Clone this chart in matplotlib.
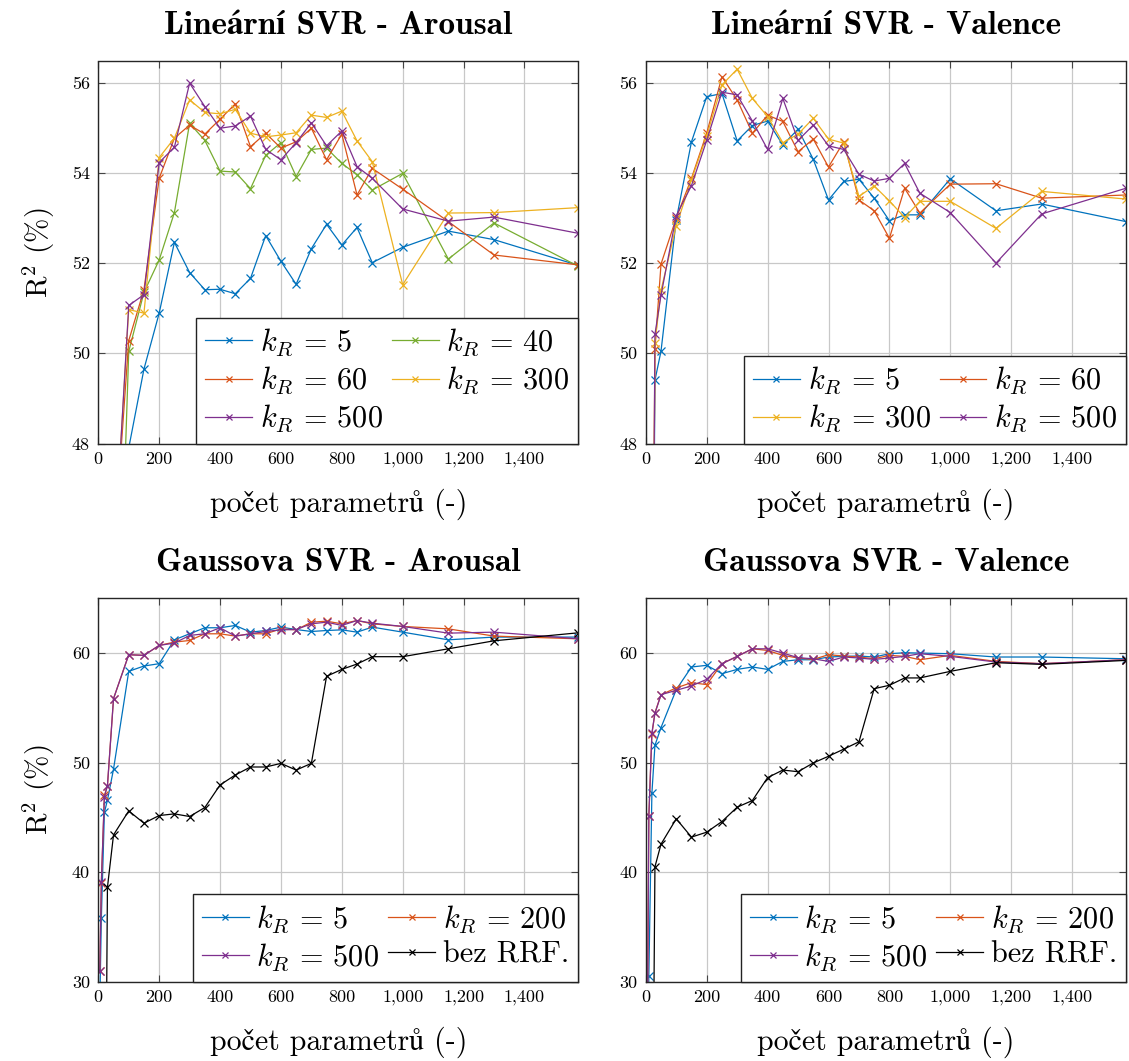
import matplotlib
matplotlib.use("Agg")
import matplotlib.pyplot as plt
from matplotlib.ticker import FuncFormatter, FixedLocator

plt.rcParams['mathtext.fontset'] = 'cm'
plt.rcParams['font.family'] = ['cmr10', 'STIXGeneral']
plt.rcParams['axes.unicode_minus'] = False

C_BLUE = '#0072BD'
C_ORANGE = '#D95319'
C_YELLOW = '#EDB120'
C_PURPLE = '#7E2F8E'
C_GREEN = '#77AC30'
C_BLACK = '#000000'

# ---------------- data ----------------
x_lin_a = [50, 100, 150, 200, 250, 300, 350, 400, 450, 500, 550, 600, 650, 700,
           750, 800, 850, 900, 1000, 1150, 1300, 1577]
lin_a_k5 = [44.0, 47.9, 49.65, 50.89, 52.46, 51.79, 51.41, 51.42, 51.32, 51.66, 52.61,
            52.04, 51.53, 52.32, 52.86, 52.40, 52.79, 52.01, 52.35, 52.71, 52.52, 51.95]
lin_a_k40 = [39.8, 50.04, 51.35, 52.07, 53.12, 55.10, 54.72, 54.04, 54.02, 53.65, 54.39,
             54.67, 53.92, 54.52, 54.55, 54.21, 53.96, 53.62, 53.99, 52.09, 52.89, 51.93]
lin_a_k60 = [45.5, 50.28, 51.41, 53.88, 54.77, 55.06, 54.86, 55.19, 55.53, 54.58, 54.88,
             54.55, 54.69, 54.99, 54.29, 54.86, 53.51, 54.10, 53.64, 52.92, 52.18, 51.96]
lin_a_k300 = [45.3, 50.97, 50.89, 54.34, 54.77, 55.62, 55.34, 55.31, 55.41, 54.88, 54.80,
              54.84, 54.89, 55.28, 55.23, 55.37, 54.71, 54.25, 51.52, 53.11, 53.12, 53.23]
lin_a_k500 = [45.2, 51.06, 51.30, 54.23, 54.57, 55.99, 55.47, 54.99, 55.04, 55.26, 54.52,
              54.29, 54.67, 55.11, 54.60, 54.93, 54.14, 53.88, 53.20, 52.93, 53.02, 52.66]

x_lin_v = [20, 30, 50, 100, 150, 200, 250, 300, 350, 400, 450, 500, 550, 600, 650, 700,
           750, 800, 850, 900, 1000, 1150, 1300, 1577]
lin_v_k5 = [40.0, 49.40, 50.05, 52.96, 54.69, 55.69, 55.76, 54.71, 55.05, 55.15, 54.62, 54.97,
            54.30, 53.40, 53.81, 53.86, 53.44, 52.94, 53.07, 53.07, 53.87, 53.16, 53.31, 52.92]
lin_v_k60 = [40.0, 50.09, 51.98, 53.00, 53.88, 54.88, 56.13, 55.62, 54.88, 55.28, 55.14, 54.47,
             54.75, 54.13, 54.69, 53.40, 53.16, 52.55, 53.66, 53.11, 53.75, 53.76, 53.44, 53.51]
lin_v_k300 = [40.0, 50.22, 51.40, 52.83, 53.85, 54.82, 55.95, 56.30, 55.65, 55.25, 54.67, 54.86,
              55.21, 54.75, 54.66, 53.48, 53.71, 53.38, 53.01, 53.37, 53.37, 52.77, 53.59, 53.42]
lin_v_k500 = [40.0, 50.42, 51.29, 53.05, 53.72, 54.72, 55.79, 55.73, 55.15, 54.52, 55.65, 54.72,
              55.06, 54.60, 54.52, 53.97, 53.82, 53.88, 54.21, 53.55, 53.12, 52.00, 53.09, 53.66]

x_gauss = [5, 10, 20, 30, 50, 100, 150, 200, 250, 300, 350, 400, 450, 500, 550, 600, 650, 700,
           750, 800, 850, 900, 1000, 1150, 1300, 1577]
x_norrf = [20, 30, 50, 100, 150, 200, 250, 300, 350, 400, 450, 500, 550, 600, 650, 700,
           750, 800, 850, 900, 1000, 1150, 1300, 1577]

gau_a_k5 = [28.0, 35.8, 45.45, 46.57, 49.4, 58.33, 58.82, 59.03, 61.21, 61.76, 62.31, 62.31, 62.52,
            61.91, 62.06, 62.37, 62.15, 61.97, 62.06, 62.12, 61.91, 62.37, 61.91, 61.21, 61.46, 61.46]
gau_a_k200 = [31.0, 39.0, 47.0, 47.87, 55.84, 59.85, 59.79, 60.70, 61.00, 61.15, 61.76, 61.76, 61.55,
              61.76, 61.76, 62.21, 62.12, 62.82, 62.91, 62.67, 62.97, 62.67, 62.43, 62.21, 61.55, 61.30]
gau_a_k500 = [31.0, 39.1, 46.9, 47.87, 55.84, 59.85, 59.79, 60.70, 60.91, 61.61, 61.76, 62.31, 61.55,
              61.76, 61.97, 62.12, 62.15, 62.67, 62.82, 62.52, 62.97, 62.73, 62.43, 61.82, 61.91, 61.30]
gau_a_norrf = [0.0, 38.6, 43.4, 45.59, 44.47, 45.17, 45.32, 45.08, 45.90, 47.96, 48.87, 49.60,
               49.60, 49.93, 49.32, 49.93, 57.88, 58.51, 59.00, 59.67, 59.67, 60.39, 61.12, 61.85]

gau_v_k5 = [20.0, 30.5, 47.2, 51.58, 53.2, 56.66, 58.73, 58.88, 58.12, 58.51, 58.73, 58.51, 59.24,
            59.39, 59.39, 59.64, 59.70, 59.73, 59.64, 59.94, 60.03, 60.00, 59.94, 59.64, 59.64, 59.48]
gau_v_k200 = [25.0, 45.1, 52.6, 54.55, 56.2, 56.82, 57.30, 57.12, 59.03, 59.70, 60.39, 60.24, 59.79,
              59.55, 59.42, 59.85, 59.73, 59.64, 59.48, 59.79, 59.70, 59.39, 59.79, 59.24, 59.03, 59.39]
gau_v_k500 = [25.0, 45.1, 52.7, 54.5, 56.2, 56.6, 57.0, 57.60, 59.03, 59.70, 60.39, 60.39, 60.00,
              59.58, 59.48, 59.24, 59.64, 59.55, 59.42, 59.55, 59.70, 59.94, 59.70, 59.18, 59.03, 59.39]
gau_v_norrf = [5.0, 40.49, 42.56, 44.87, 43.20, 43.65, 44.62, 45.93, 46.54, 48.63, 49.32, 49.17,
               49.97, 50.58, 51.23, 51.90, 56.75, 57.06, 57.73, 57.73, 58.33, 59.12, 58.97, 59.33]

titles = ['Lineární SVR - Arousal', 'Lineární SVR - Valence',
          'Gaussova SVR - Arousal', 'Gaussova SVR - Valence']
xlabel = 'počet parametrů (-)'
ylabel = r'R$^2$ (%)'
xticks = [0, 200, 400, 600, 800, 1000, 1200, 1400]
yticks_lin = [48, 50, 52, 54, 56]
yticks_gau = [30, 40, 50, 60]

# ---------------- figure ----------------
W, H = 1129, 1061
fig = plt.figure(figsize=(W / 100, H / 100), dpi=100)

def px_axes(x0, x1, y0, y1):
    return fig.add_axes([x0 / W, 1 - y1 / H, (x1 - x0) / W, (y1 - y0) / H])

ax_tl = px_axes(98.3, 578.3, 61.5, 443.5)
ax_tr = px_axes(645.8, 1126.0, 61.5, 443.5)
ax_bl = px_axes(98.3, 578.3, 598.3, 981.7)
ax_br = px_axes(645.8, 1126.0, 598.3, 981.7)

LW = 0.9
MS = 6
MEW = 0.9

def line(ax, x, y, color, label):
    ax.plot(x, y, color=color, lw=LW, marker='x', ms=MS, mew=MEW, label=label)

line(ax_tl, x_lin_a, lin_a_k5, C_BLUE, r'$k_R\,=\,5$')
line(ax_tl, x_lin_a, lin_a_k40, C_GREEN, r'$k_R\,=\,40$')
line(ax_tl, x_lin_a, lin_a_k60, C_ORANGE, r'$k_R\,=\,60$')
line(ax_tl, x_lin_a, lin_a_k300, C_YELLOW, r'$k_R\,=\,300$')
line(ax_tl, x_lin_a, lin_a_k500, C_PURPLE, r'$k_R\,=\,500$')

line(ax_tr, x_lin_v, lin_v_k5, C_BLUE, r'$k_R\,=\,5$')
line(ax_tr, x_lin_v, lin_v_k60, C_ORANGE, r'$k_R\,=\,60$')
line(ax_tr, x_lin_v, lin_v_k300, C_YELLOW, r'$k_R\,=\,300$')
line(ax_tr, x_lin_v, lin_v_k500, C_PURPLE, r'$k_R\,=\,500$')

line(ax_bl, x_gauss, gau_a_k5, C_BLUE, r'$k_R\,=\,5$')
line(ax_bl, x_gauss, gau_a_k200, C_ORANGE, r'$k_R\,=\,200$')
line(ax_bl, x_gauss, gau_a_k500, C_PURPLE, r'$k_R\,=\,500$')
line(ax_bl, x_norrf, gau_a_norrf, C_BLACK, 'bez RRF.')

line(ax_br, x_gauss, gau_v_k5, C_BLUE, r'$k_R\,=\,5$')
line(ax_br, x_gauss, gau_v_k200, C_ORANGE, r'$k_R\,=\,200$')
line(ax_br, x_gauss, gau_v_k500, C_PURPLE, r'$k_R\,=\,500$')
line(ax_br, x_norrf, gau_v_norrf, C_BLACK, 'bez RRF.')

fmt = FuncFormatter(lambda v, p: f"{int(v):,}")

for ax, title in zip([ax_tl, ax_tr, ax_bl, ax_br], titles):
    ax.set_xlim(0, 1577)
    ax.xaxis.set_major_locator(FixedLocator(xticks))
    ax.xaxis.set_major_formatter(fmt)
    ax.grid(True, color='#c8c8c8', lw=0.9)
    ax.set_axisbelow(True)
    ax.tick_params(direction='in', top=True, right=True, length=5, width=0.8,
                   color='#444444', labelsize=13, pad=6)
    for s in ax.spines.values():
        s.set_linewidth(1.0)
        s.set_color('#262626')
    ax.set_title(title, fontsize=24, fontweight='bold',
                 fontfamily=['cmb10', 'STIXGeneral'], pad=20)
    ax.set_xlabel(xlabel, fontsize=21.5, labelpad=15)

for ax in (ax_tl, ax_tr):
    ax.set_ylim(48, 56.47)
    ax.set_yticks(yticks_lin)
for ax in (ax_bl, ax_br):
    ax.set_ylim(30, 65)
    ax.set_yticks(yticks_gau)
for ax in (ax_tl, ax_bl):
    ax.set_ylabel(ylabel, fontsize=21, labelpad=11)

def legend(ax, order):
    h, l = ax.get_legend_handles_labels()
    lg = ax.legend([h[i] for i in order], [l[i] for i in order], ncol=2,
                   loc='lower right', borderaxespad=0.0, fontsize=21.8,
                   fancybox=False, framealpha=1.0, edgecolor='#222222',
                   handlelength=1.55, handletextpad=0.25, columnspacing=0.3,
                   labelspacing=0.22, borderpad=0.3, markerscale=0.75)
    lg.get_frame().set_linewidth(1.0)

legend(ax_tl, [0, 2, 4, 1, 3])
legend(ax_tr, [0, 2, 1, 3])
legend(ax_bl, [0, 2, 1, 3])
legend(ax_br, [0, 2, 1, 3])

fig.savefig('out.png', dpi=100)
